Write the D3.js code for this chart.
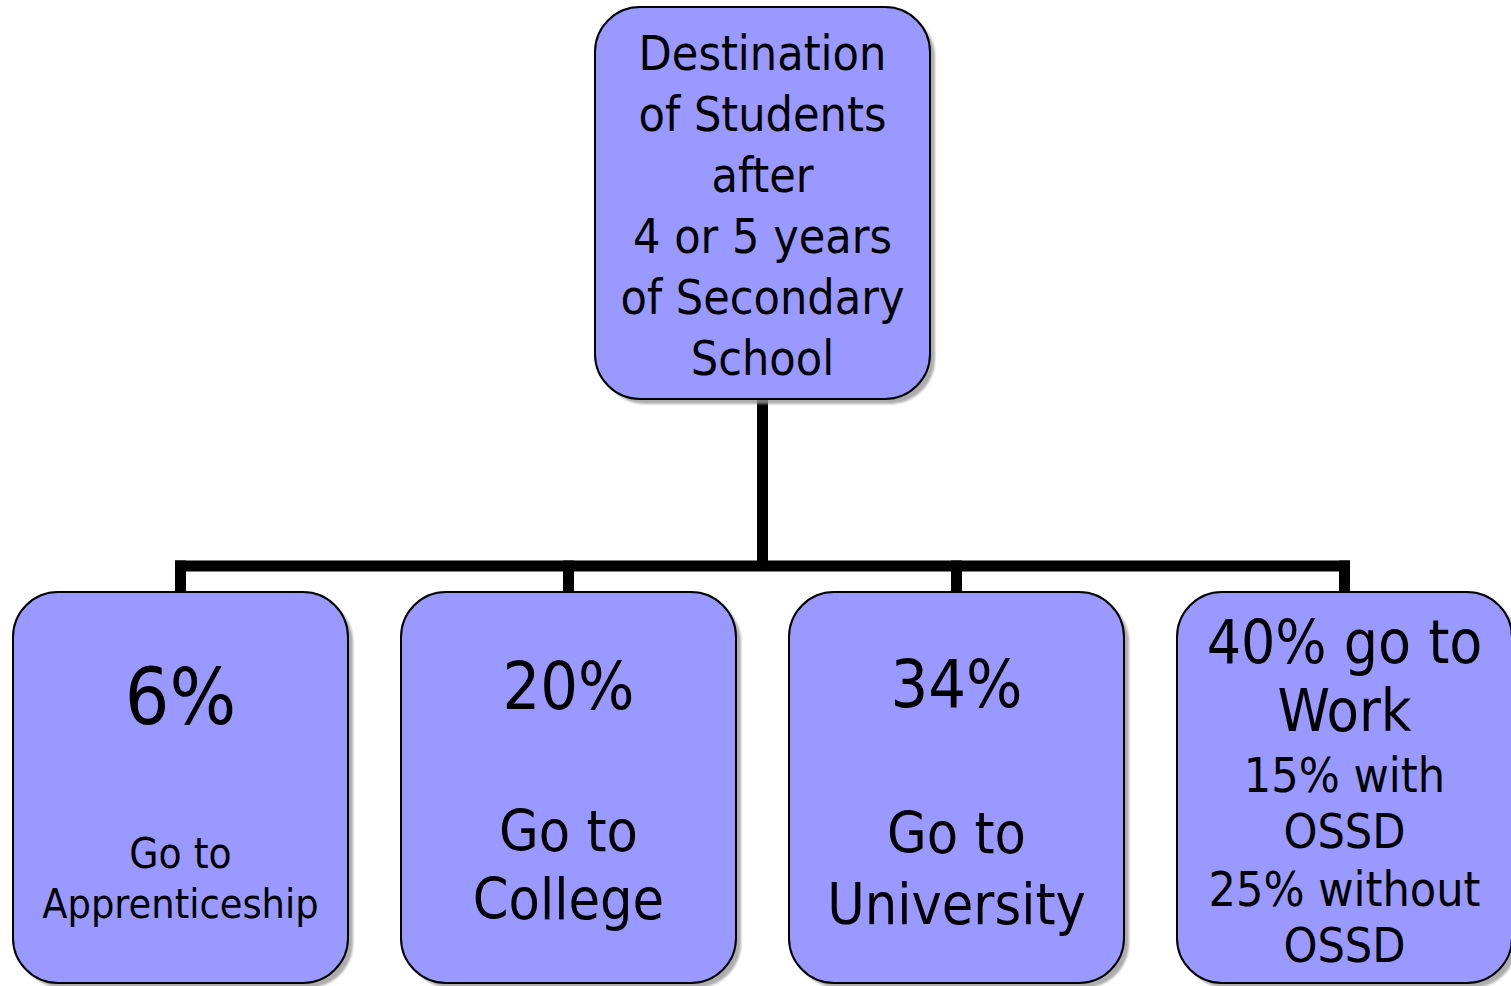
<!DOCTYPE html>
<html>
<head>
<meta charset="utf-8">
<script src="https://cdn.jsdelivr.net/npm/d3@7"></script>
<style>
  body { margin: 0; background: #fff; }
  svg { display: block; }
  text { font-family: "DejaVu Sans Condensed", "DejaVu Sans", sans-serif; fill: #000; text-anchor: middle; }
</style>
</head>
<body>
<div id="chart"></div>
<script>
// chart content
const rootLines = ["Destination", "of Students", "after", "4 or 5 years", "of Secondary", "School"];
const destinations = ["Apprenticeship", "College", "University", "Work"];
const shares = [6, 20, 34, 40];
const workSplit = [15, 25];
const workSplitLabels = [["with", "OSSD"], ["without", "OSSD"]];

const width = 1511, height = 986;
const fill = "#9999ff";

const svg = d3.select("#chart").append("svg")
    .attr("width", width)
    .attr("height", height);

const defs = svg.append("defs");
defs.append("filter")
    .attr("id", "blur")
    .append("feGaussianBlur")
    .attr("stdDeviation", 1.2);

const x = d3.scaleBand()
    .domain(destinations)
    .range([13, 1512])
    .paddingInner(0.1366);

const root = {x: 595, y: 7, w: 335, h: 392};
const child = {y: 592, h: 391};
const rootCx = root.x + root.w / 2;
const barY = 566;

// connectors
const conn = svg.append("g")
    .attr("stroke", "#000")
    .attr("stroke-width", 11)
    .attr("fill", "none");

conn.append("line")
    .attr("x1", rootCx).attr("x2", rootCx)
    .attr("y1", root.y + root.h).attr("y2", barY);

conn.append("line")
    .attr("x1", x(destinations[0]) + x.bandwidth() / 2 - 5.5)
    .attr("x2", x(destinations[3]) + x.bandwidth() / 2 + 5.5)
    .attr("y1", barY).attr("y2", barY);

conn.selectAll(".drop").data(destinations).enter()
    .append("line")
    .attr("class", "drop")
    .attr("x1", d => x(d) + x.bandwidth() / 2)
    .attr("x2", d => x(d) + x.bandwidth() / 2)
    .attr("y1", barY - 5.5)
    .attr("y2", child.y);

// boxes
function box(bx, by, bw, bh) {
    svg.append("rect")
        .attr("x", bx + 5).attr("y", by + 5)
        .attr("width", bw).attr("height", bh)
        .attr("rx", 45)
        .attr("fill", "#999")
        .attr("opacity", 0.8)
        .attr("filter", "url(#blur)");
    svg.append("rect")
        .attr("x", bx).attr("y", by)
        .attr("width", bw).attr("height", bh)
        .attr("rx", 45)
        .attr("fill", fill)
        .attr("stroke", "#000")
        .attr("stroke-width", 2);
}

box(root.x, root.y, root.w, root.h);
destinations.forEach(d => box(x(d), child.y, x.bandwidth(), child.h));

// texts
function lines(cx, items) {
    items.forEach(it => {
        svg.append("text")
            .attr("x", cx)
            .attr("y", it.y)
            .attr("dy", "0.36em")
            .style("font-size", it.size + "px")
            .text(it.t);
    });
}

lines(rootCx, rootLines.map((t, i) => ({t: t, y: 53 + i * 61, size: 48})));

const cx = d => x(d) + x.bandwidth() / 2;

lines(cx(destinations[0]), [
    {t: shares[0] + "%", y: 696, size: 78},
    {t: "Go to", y: 853, size: 42},
    {t: destinations[0], y: 903, size: 41}
]);
lines(cx(destinations[1]), [
    {t: shares[1] + "%", y: 685, size: 66},
    {t: "Go to", y: 830, size: 57},
    {t: destinations[1], y: 898, size: 57}
]);
lines(cx(destinations[2]), [
    {t: shares[2] + "%", y: 683, size: 66},
    {t: "Go to", y: 832, size: 57},
    {t: destinations[2], y: 903, size: 57}
]);
lines(cx(destinations[3]), [
    {t: shares[3] + "% go to", y: 641, size: 60},
    {t: destinations[3], y: 710, size: 59},
    {t: workSplit[0] + "% " + workSplitLabels[0][0], y: 775, size: 48},
    {t: workSplitLabels[0][1], y: 831, size: 48},
    {t: workSplit[1] + "% " + workSplitLabels[1][0], y: 889, size: 48},
    {t: workSplitLabels[1][1], y: 945, size: 48}
]);
</script>
</body>
</html>
